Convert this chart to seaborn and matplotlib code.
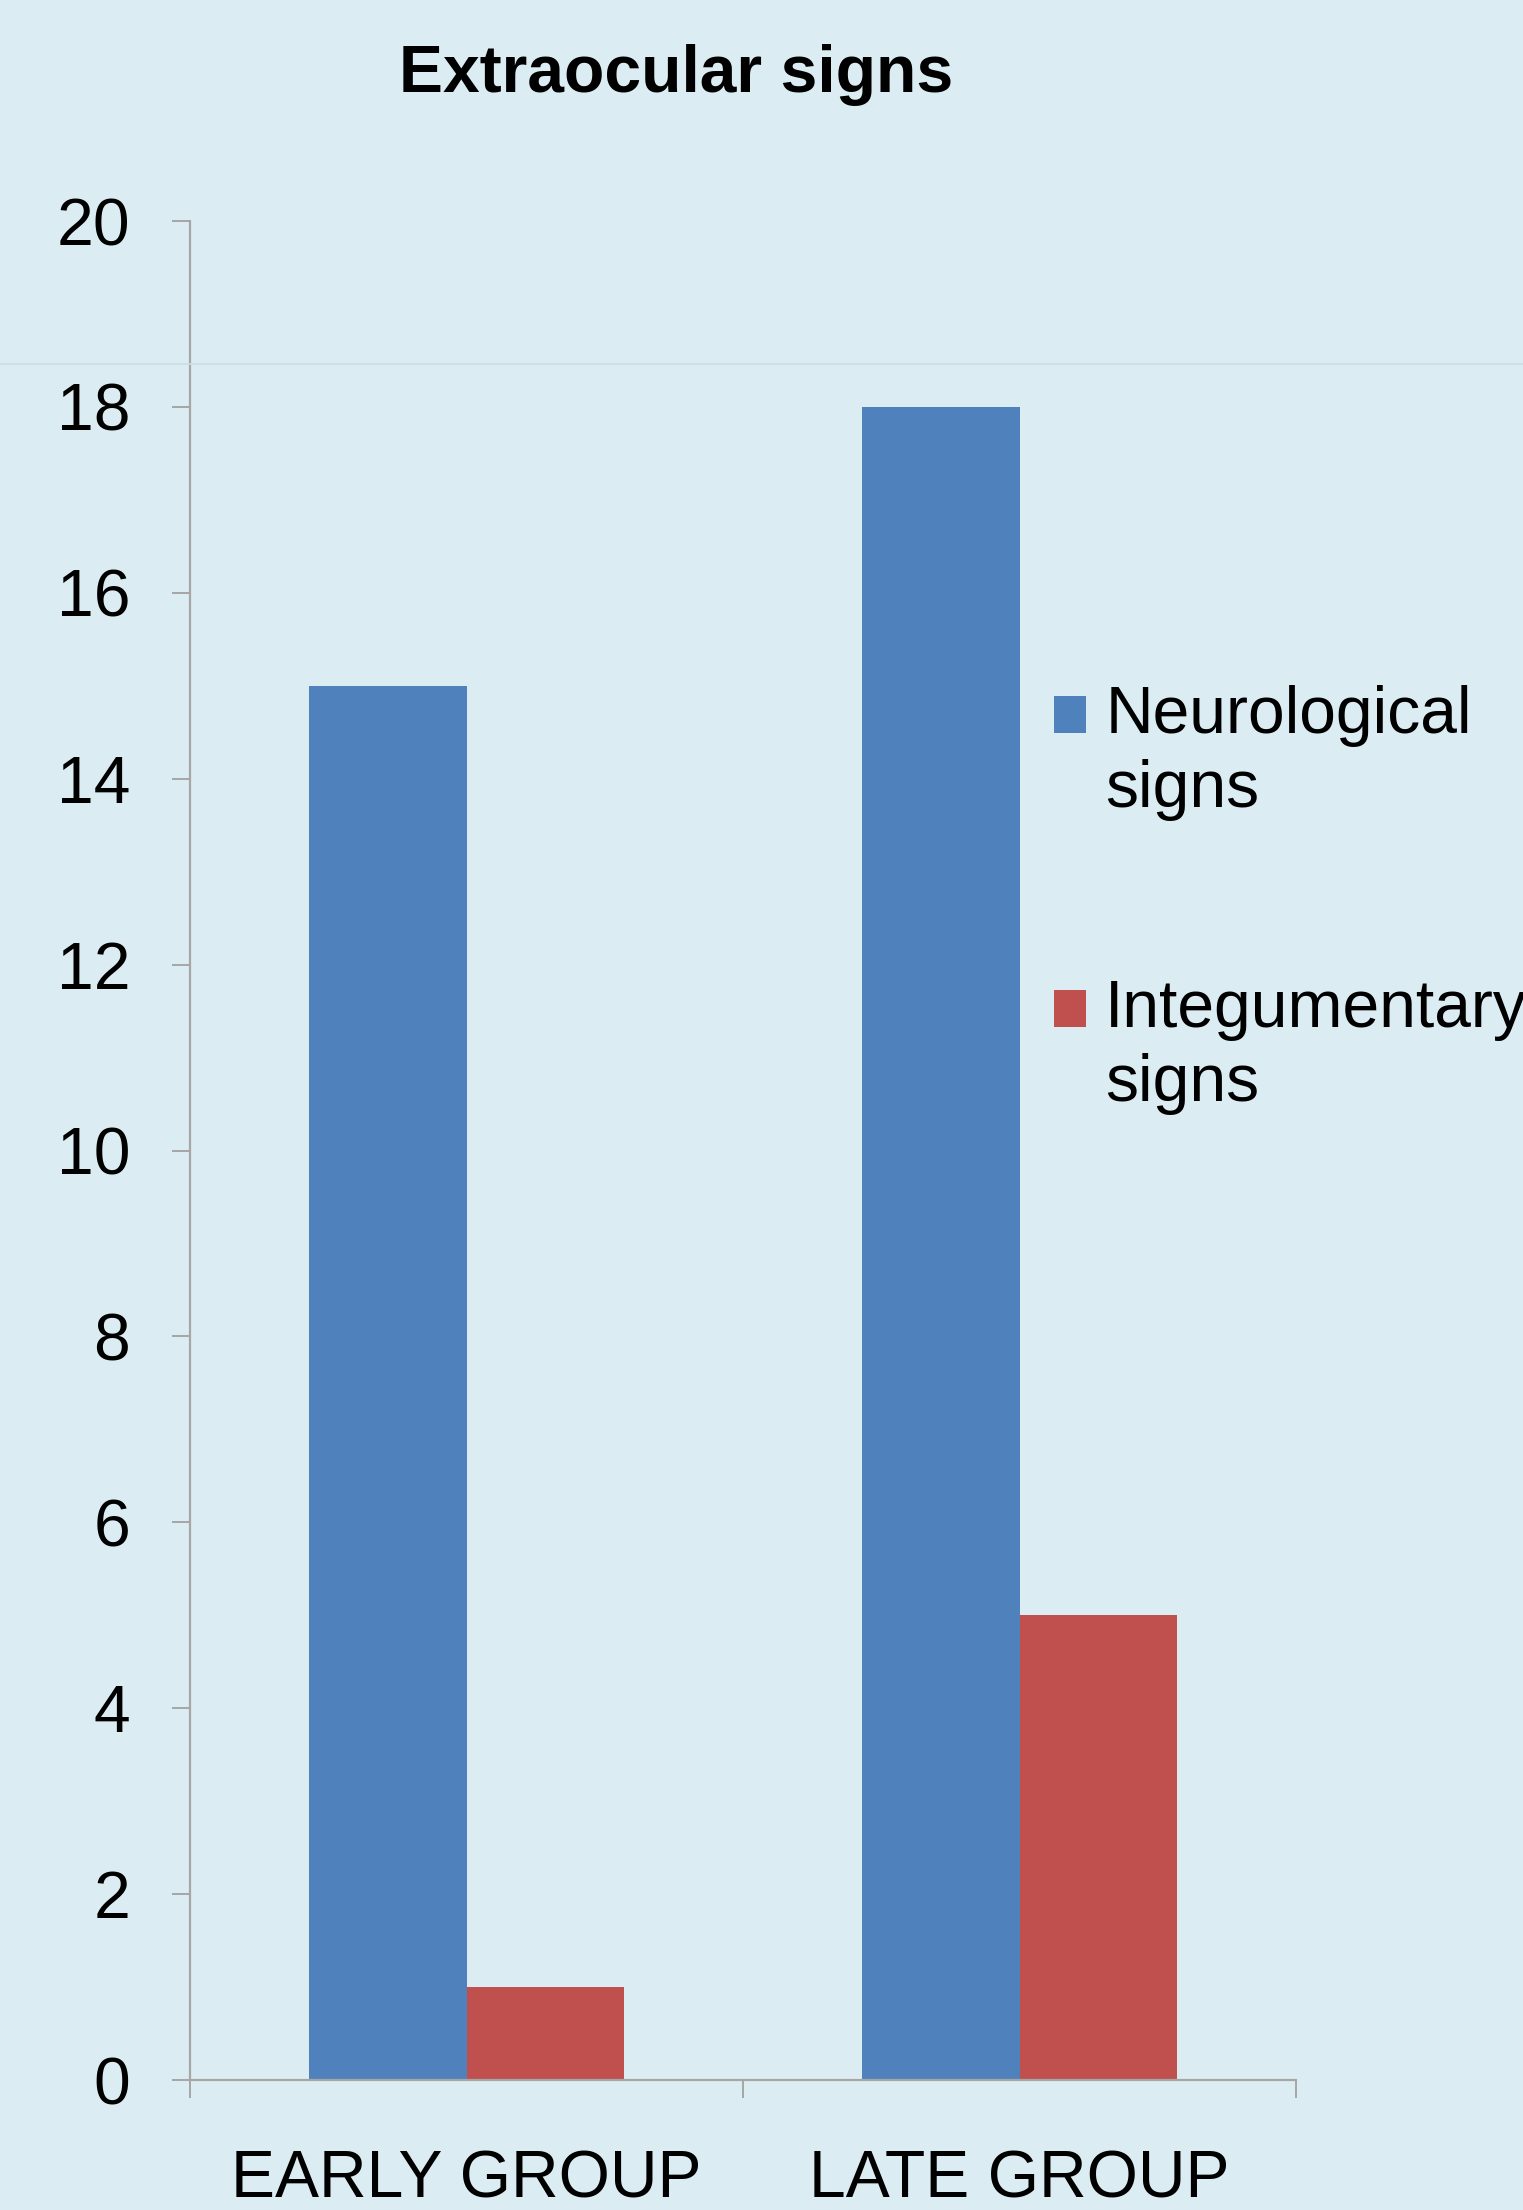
"""Extraocular signs: neurological vs integumentary counts per group."""
import matplotlib

matplotlib.use("Agg")
import matplotlib.pyplot as plt
from matplotlib.lines import Line2D
import pandas as pd
import seaborn as sns

GROUPS = ["EARLY GROUP", "LATE GROUP"]
SIGNS = ["Neurological\nsigns", "Integumentary\nsigns"]
NEURO = [15, 18]
INTEG = [1, 5]
Y_TICKS = [0, 2, 4, 6, 8, 10, 12, 14, 16, 18, 20]

BG = "#dbedf3"
COLORS = ["#4f81bd", "#c0504d"]
AXIS_GRAY = "#a6a6a6"
FS = 47.5


def main() -> None:
    df = pd.DataFrame(
        {
            "group": GROUPS * 2,
            "sign": [SIGNS[0]] * 2 + [SIGNS[1]] * 2,
            "count": NEURO + INTEG,
        }
    )

    sns.set_style("white")
    plt.rcParams["font.family"] = ["Liberation Sans", "DejaVu Sans"]
    plt.rcParams["text.color"] = "black"
    plt.rcParams["xtick.labelcolor"] = "black"
    plt.rcParams["ytick.labelcolor"] = "black"

    fig = plt.figure(figsize=(15.23, 22.10), dpi=100, facecolor=BG)
    ax = fig.add_axes([0.1248, 0.0588, 0.7262, 0.8412])
    ax.set_facecolor(BG)

    sns.barplot(
        data=df, x="group", y="count", hue="sign", order=GROUPS,
        hue_order=SIGNS, palette=COLORS, saturation=1, width=0.57,
        linewidth=0, ax=ax,
    )

    ax.set_xlim(-0.5, 1.5)
    ax.set_ylim(0, 20)
    ax.set_yticks(Y_TICKS)
    ax.set_xlabel("")
    ax.set_ylabel("")

    for side in ["top", "right"]:
        ax.spines[side].set_visible(False)
    for side in ["left", "bottom"]:
        ax.spines[side].set_color(AXIS_GRAY)
        ax.spines[side].set_linewidth(1.6)

    ax.tick_params(axis="y", length=13, width=1.4, color=AXIS_GRAY,
                   labelsize=FS, pad=30, direction="out", left=True)
    ax.tick_params(axis="x", which="major", length=0, labelsize=FS, pad=50)
    ax.set_xticks([-0.5, 0.5, 1.5], minor=True)
    ax.tick_params(axis="x", which="minor", length=13, width=1.4,
                   color=AXIS_GRAY, direction="out", bottom=True)

    handles, labels = ax.get_legend_handles_labels()
    leg = ax.legend(
        handles, labels, loc="upper left", bbox_to_anchor=(0.653, 0.717),
        bbox_transform=fig.transFigure, frameon=False, fontsize=FS,
        handlelength=0.48, handleheight=0.48, handletextpad=0.3,
        labelspacing=2.4,
    )
    for txt in leg.get_texts():
        txt.set_linespacing(1.25)
    # put the colour square next to the first line of each label
    for h in leg.legend_handles:
        h.set_y(h.get_y() + 28)

    fig.text(0.444, 0.966, "Extraocular signs", ha="center", va="center",
             fontsize=FS, fontweight="bold")

    # faint slide guide line across the whole picture
    fig.add_artist(Line2D([0, 1], [1 - 364 / 2210] * 2, transform=fig.transFigure,
                          color="#cbdee6", linewidth=1.2))

    fig.savefig("out.png", dpi=100, facecolor=BG)
    plt.close(fig)


if __name__ == "__main__":
    main()
